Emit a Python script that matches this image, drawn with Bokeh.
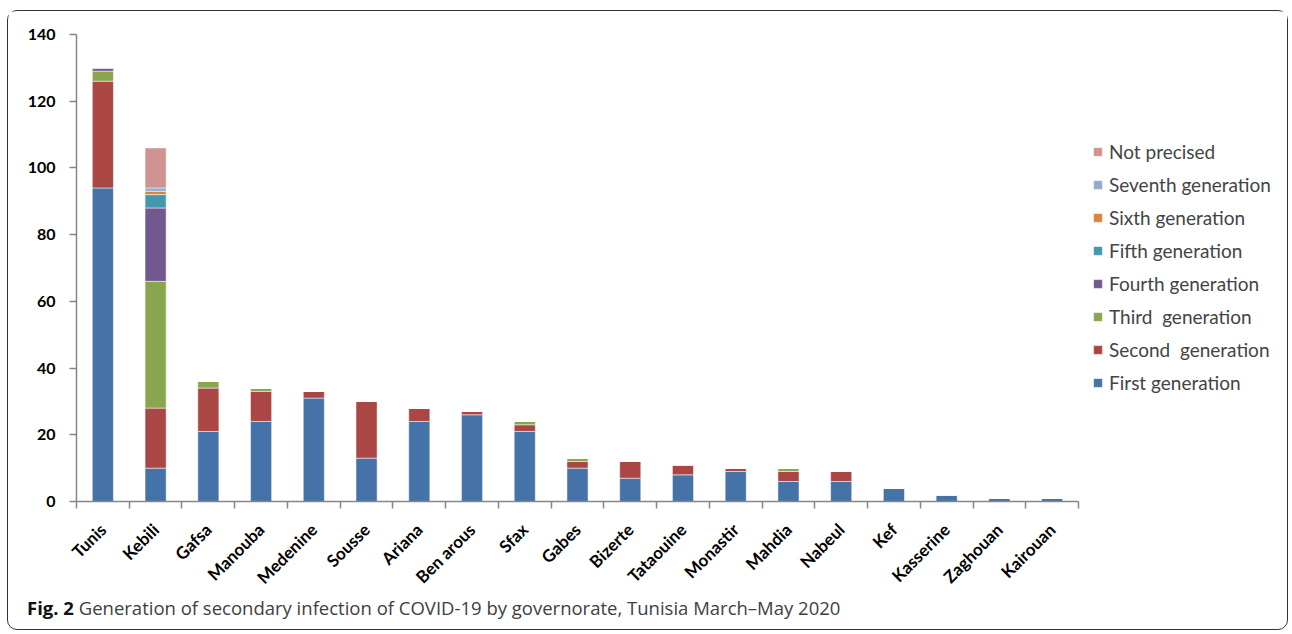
import math
from bokeh.plotting import figure
from bokeh.layouts import column
from bokeh.models import ColumnDataSource, Range1d, FixedTicker, Legend, LegendItem, Div
from bokeh.embed import file_html
from bokeh.resources import INLINE

governorates = ["Tunis", "Kebili", "Gafsa", "Manouba", "Medenine", "Sousse", "Ariana",
                "Ben arous", "Sfax", "Gabes", "Bizerte", "Tataouine", "Monastir", "Mahdia",
                "Nabeul", "Kef", "Kasserine", "Zaghouan", "Kairouan"]

first_gen = [94, 10, 21, 24, 31, 13, 24, 26, 21, 10, 7, 8, 9, 6, 6, 4, 2, 1, 1]
second_gen = [32, 18, 13, 9, 2, 17, 4, 1, 2, 2, 5, 3, 1, 3, 3, 0, 0, 0, 0]
third_gen = [3, 38, 2, 1, 0, 0, 0, 0, 1, 1, 0, 0, 0, 1, 0, 0, 0, 0, 0]
fourth_gen = [1, 22, 0, 0, 0, 0, 0, 0, 0, 0, 0, 0, 0, 0, 0, 0, 0, 0, 0]
fifth_gen = [0, 4, 0, 0, 0, 0, 0, 0, 0, 0, 0, 0, 0, 0, 0, 0, 0, 0, 0]
sixth_gen = [0, 1, 0, 0, 0, 0, 0, 0, 0, 0, 0, 0, 0, 0, 0, 0, 0, 0, 0]
seventh_gen = [0, 1, 0, 0, 0, 0, 0, 0, 0, 0, 0, 0, 0, 0, 0, 0, 0, 0, 0]
not_precised = [0, 12, 0, 0, 0, 0, 0, 0, 0, 0, 0, 0, 0, 0, 0, 0, 0, 0, 0]

series_keys = ["first", "second", "third", "fourth", "fifth", "sixth", "seventh", "notp"]
series_labels = ["First generation", "Second  generation", "Third  generation",
                 "Fourth generation", "Fifth generation", "Sixth generation",
                 "Seventh generation", "Not precised"]
series_colors = ["#4572A7", "#AA4643", "#89A54E", "#71588F", "#4198AF", "#DB843D",
                 "#93A9CF", "#D19392"]

y_ticks = [0, 20, 40, 60, 80, 100, 120, 140]

caption_bold = "Fig. 2"
caption_text = "Generation of secondary infection of COVID-19 by governorate, Tunisia March\u2013May 2020"

n = len(governorates)
xs = list(range(n))
source = ColumnDataSource(dict(
    x=xs, first=first_gen, second=second_gen, third=third_gen, fourth=fourth_gen,
    fifth=fifth_gen, sixth=sixth_gen, seventh=seventh_gen, notp=not_precised,
))

# the category axis takes 1002 px; the frame runs on to the right to hold the legend
axis_px = 1002
frame_w = 1201
x_end = -0.5 + frame_w * n / axis_px

p = figure(frame_width=frame_w, frame_height=467, output_backend="svg", toolbar_location=None,
           x_range=Range1d(-0.5, x_end), y_range=Range1d(0, 140),
           min_border_left=68, min_border_right=10, min_border_top=23, min_border_bottom=106,
           outline_line_color=None)

renderers = p.vbar_stack(series_keys, x="x", width=0.4, source=source, color=series_colors,
                         line_color="white", line_alpha=0.5, line_width=1)

p.xgrid.visible = False
p.ygrid.visible = False

# y axis
p.yaxis.ticker = FixedTicker(ticks=y_ticks)
p.yaxis.axis_line_color = "#868686"
p.yaxis.axis_line_width = 1.5
p.yaxis.major_tick_line_color = "#868686"
p.yaxis.major_tick_line_width = 1.5
p.yaxis.major_tick_out = 7
p.yaxis.major_tick_in = 0
p.yaxis.minor_tick_line_color = None
p.yaxis.major_label_text_font = "Lato"
p.yaxis.major_label_text_font_style = "bold"
p.yaxis.major_label_text_font_size = "16px"
p.yaxis.major_label_text_color = "black"
p.yaxis.major_label_standoff = 14

# x axis: labels at bar centres, tick marks between categories
boundaries = [i - 0.5 for i in range(n + 1)]
p.xaxis.bounds = (-0.5, n - 0.5)
p.xaxis.ticker = FixedTicker(ticks=xs, minor_ticks=boundaries)
p.xaxis.major_label_overrides = {i: g for i, g in enumerate(governorates)}
p.xaxis.major_label_orientation = math.pi / 4
p.xaxis.axis_line_color = "#868686"
p.xaxis.axis_line_width = 1.5
p.xaxis.major_tick_line_color = None
p.xaxis.minor_tick_line_color = "#868686"
p.xaxis.minor_tick_line_width = 1.5
p.xaxis.minor_tick_out = 7
p.xaxis.minor_tick_in = 0
p.xaxis.major_label_text_font = "Lato"
p.xaxis.major_label_text_font_style = "bold"
p.xaxis.major_label_text_font_size = "17px"
p.xaxis.major_label_text_color = "black"
p.xaxis.major_label_standoff = 18

# legend right of the bars, top entry is the last stacked series
items = [LegendItem(label=lab, renderers=[r]) for lab, r in zip(series_labels, renderers)]
legend = Legend(items=items[::-1], location=(1016, 107), border_line_color=None,
                background_fill_alpha=0, glyph_width=11, glyph_height=11,
                label_text_font="Lato", label_text_font_size="19px",
                label_standoff=6, spacing=10, label_height=23, padding=0, margin=0)
p.add_layout(legend)

caption = Div(
    text=f'<b style="color:#111">{caption_bold}</b>&nbsp;{caption_text}',
    styles={"font-family": "Open Sans", "font-size": "18.5px", "color": "#404040",
            "line-height": "20px", "padding-left": "14px", "padding-bottom": "6px",
            "margin-top": "-9px", "white-space": "nowrap"},
)

page = column(p, caption,
              styles={"margin-left": "7px", "margin-top": "10px", "width": "1281px",
                      "box-sizing": "border-box",
                      "border": "1px solid #333", "border-radius": "10px"})

open("out.html", "w").write(file_html(page, INLINE))
